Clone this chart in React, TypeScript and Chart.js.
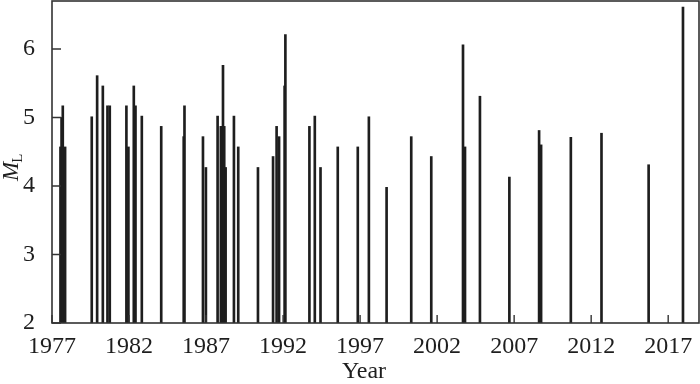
import React, { useEffect, useRef } from 'react';
import { Chart, registerables } from 'chart.js';

Chart.register(...registerables);

const eventYears = [
  1977.55, 1977.62, 1977.7, 1977.85, 1979.58, 1979.93, 1980.3, 1980.6, 1980.75,
  1981.83, 1981.96, 1982.31, 1982.42, 1982.83, 1984.09, 1985.55, 1985.6, 1986.8,
  1986.99, 1987.75, 1987.96, 1988.03, 1988.1, 1988.18, 1988.27, 1988.81, 1989.09,
  1990.37, 1991.35, 1991.58, 1991.74, 1992.1, 1992.15, 1993.71, 1994.06, 1994.43,
  1995.55, 1996.85, 1997.57, 1998.72, 2000.32, 2001.62, 2003.68, 2003.81, 2004.78,
  2006.69, 2008.62, 2008.75, 2010.68, 2012.67, 2015.73, 2017.96,
];
const magnitudes = [
  4.57, 5.0, 5.17, 4.57, 5.01, 5.61, 5.46, 5.17, 5.17,
  5.17, 4.57, 5.46, 5.17, 5.02, 4.87, 4.72, 5.17, 4.72,
  4.27, 5.02, 4.87, 4.87, 5.76, 4.87, 4.27, 5.02, 4.57,
  4.27, 4.43, 4.87, 4.72, 5.46, 6.21, 4.87, 5.02, 4.27,
  4.57, 4.57, 5.01, 3.98, 4.72, 4.43, 6.06, 4.57, 5.31,
  4.13, 4.81, 4.6, 4.71, 4.77, 4.31, 6.61,
];
const xTickYears = [1977, 1982, 1987, 1992, 1997, 2002, 2007, 2012, 2017];
const yTickValues = [2, 3, 4, 5, 6];
const baseMagnitude = 2;

const FONT = "'Liberation Serif', 'Times New Roman', serif";
const INK = '#1e1e1e';

const framePlugin = {
  id: 'frameAndTitles',
  afterDraw(chart: any) {
    const { ctx, chartArea } = chart;
    const { left, right, top, bottom } = chartArea;
    const xs = chart.scales.x;
    const ys = chart.scales.y;
    ctx.save();
    ctx.strokeStyle = '#333';
    ctx.lineWidth = 1.6;
    ctx.strokeRect(left, top, right - left, bottom - top);
    ctx.lineWidth = 1.4;
    ctx.beginPath();
    xTickYears.forEach((v) => {
      const px = xs.getPixelForValue(v);
      ctx.moveTo(px, bottom);
      ctx.lineTo(px, bottom - 8);
    });
    yTickValues.forEach((v) => {
      const py = ys.getPixelForValue(v);
      ctx.moveTo(left, py);
      ctx.lineTo(left + 9, py);
    });
    ctx.stroke();

    ctx.fillStyle = INK;
    ctx.font = `24px ${FONT}`;
    ctx.textAlign = 'center';
    ctx.textBaseline = 'alphabetic';
    ctx.fillText('Year', 364, 378);

    ctx.translate(18, 181);
    ctx.rotate(-Math.PI / 2);
    ctx.textAlign = 'left';
    ctx.font = `italic 23px ${FONT}`;
    ctx.fillText('M', 0, 0);
    const w = ctx.measureText('M').width;
    ctx.font = `15px ${FONT}`;
    ctx.fillText('L', w - 1, 4);
    ctx.restore();
  },
};

export default function App() {
  const canvasRef = useRef<HTMLCanvasElement | null>(null);

  useEffect(() => {
    if (!canvasRef.current) return;
    const data = eventYears.map((x, i) => ({ x, y: [baseMagnitude, magnitudes[i]] }));
    const chart = new Chart(canvasRef.current, {
      type: 'bar',
      data: {
        datasets: [
          {
            data: data as any,
            backgroundColor: INK,
            borderWidth: 0,
            barThickness: 2,
            grouped: false,
          } as any,
        ],
      },
      options: {
        animation: false,
        responsive: false,
        maintainAspectRatio: false,
        layout: { padding: { top: 1, right: 1, left: 0, bottom: 0 } },
        plugins: { legend: { display: false }, tooltip: { enabled: false } },
        scales: {
          x: {
            type: 'linear',
            min: 1977,
            max: 2019,
            offset: false,
            grid: { display: false },
            border: { display: false },
            afterBuildTicks: (s: any) => {
              s.ticks = xTickYears.map((v) => ({ value: v }));
            },
            afterFit: (s: any) => {
              s.height = 61;
              s.paddingLeft = 0;
              s.paddingRight = 0;
            },
            ticks: {
              autoSkip: false,
              maxRotation: 0,
              padding: 1,
              color: INK,
              font: { family: FONT, size: 24 },
              callback: (v: any) => String(v),
            },
          },
          y: {
            type: 'linear',
            min: 2,
            max: 6.7,
            grid: { display: false },
            border: { display: false },
            afterBuildTicks: (s: any) => {
              s.ticks = yTickValues.map((v) => ({ value: v }));
            },
            afterFit: (s: any) => {
              s.width = 52;
              s.paddingTop = 0;
              s.paddingBottom = 0;
            },
            ticks: {
              padding: 9,
              color: INK,
              font: { family: FONT, size: 24 },
              callback: (v: any) => String(v),
            },
          },
        },
      },
      plugins: [framePlugin],
    });
    return () => chart.destroy();
  }, []);

  return (
    <div style={{ position: 'absolute', left: 0, top: 0, width: 700, height: 384, background: '#fff' }}>
      <canvas ref={canvasRef} width={700} height={384} style={{ display: 'block' }} />
    </div>
  );
}
